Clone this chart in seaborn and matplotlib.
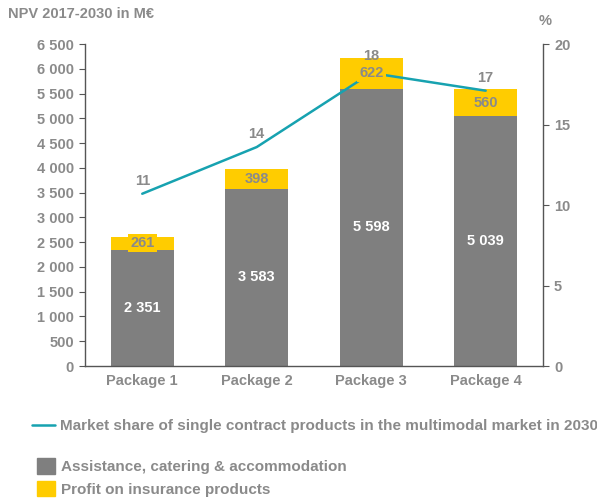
import pandas as pd
import seaborn as sns
import matplotlib.pyplot as plt
from matplotlib.patches import Patch
from matplotlib.lines import Line2D

# data
packages = ['Package 1', 'Package 2', 'Package 3', 'Package 4']
assistance = [2351, 3583, 5598, 5039]
insurance = [261, 398, 622, 560]
market_share = [10.7, 13.6, 18.2, 17.1]
share_labels = ['11', '14', '18', '17']

GRAY = '#7f7f7f'
YELLOW = '#ffcc00'
TEAL = '#17a2b0'
TXT = '#8a8a8a'
AX = '#555555'

sns.set_style('white')
plt.rcParams['font.family'] = ['Liberation Sans', 'DejaVu Sans']
plt.rcParams['font.weight'] = 'bold'

df = pd.DataFrame({'package': packages, 'assistance': assistance,
                   'insurance': insurance})
df['total'] = df['assistance'] + df['insurance']

fig = plt.figure(figsize=(5.97, 4.99), dpi=100)
ax = fig.add_axes([0.1424, 0.2665, 0.767, 0.6453])

# stacked bars: total in yellow, then gray on top of it
sns.barplot(data=df, x='package', y='total', color=YELLOW, saturation=1,
            width=0.55, ax=ax)
sns.barplot(data=df, x='package', y='assistance', color=GRAY, saturation=1,
            width=0.55, ax=ax)
for p in ax.patches:
    p.set_edgecolor('none')

ax.set_ylim(0, 6500)
ax.set_xlim(-0.5, 3.5)
ax.set_yticks(range(0, 6501, 500))
ax.set_yticklabels([f'{v:,}'.replace(',', ' ') for v in range(0, 6501, 500)])
ax.set_xlabel('')
ax.set_ylabel('')
ax.tick_params(axis='y', length=4, color=AX, labelcolor=TXT, labelsize=10.5, pad=4)
ax.tick_params(axis='x', length=0, labelcolor=TXT, labelsize=10.5, pad=6)
for s in ['top', 'right']:
    ax.spines[s].set_visible(False)
for s in ['left', 'bottom']:
    ax.spines[s].set_color(AX)
    ax.spines[s].set_linewidth(1)

# line on secondary axis
ax2 = ax.twinx()
sns.lineplot(x=list(range(len(packages))), y=market_share, color=TEAL,
             linewidth=1.8, ax=ax2)
ax2.set_ylim(0, 20)
ax2.set_yticks([0, 5, 10, 15, 20])
ax2.tick_params(axis='y', length=4, color=AX, labelcolor=TXT, labelsize=10.5, pad=4)
for s in ['top', 'left', 'bottom']:
    ax2.spines[s].set_visible(False)
ax2.spines['right'].set_color(AX)
ax2.spines['right'].set_linewidth(1)

for i, (v, lab) in enumerate(zip(market_share, share_labels)):
    off = 9.5 if i != 2 else 12.5
    ax2.annotate(lab, (i, v), xytext=(0, off), textcoords='offset points',
                 ha='center', va='center', color=TXT, fontsize=10.5, fontweight='bold')

# bar value labels (drawn on ax2 so they sit above the line)
for i, row in df.iterrows():
    ax2.text(i, row['assistance'] / 2, f"{row['assistance']:,}".replace(',', ' '),
             transform=ax.transData, ha='center', va='center',
             color='white', fontsize=10.5, fontweight='bold')
    ax2.text(i, row['assistance'] + row['insurance'] / 2, str(row['insurance']),
             transform=ax.transData, ha='center', va='center',
             color=TXT, fontsize=10.5, fontweight='bold',
             bbox=dict(boxstyle='square,pad=0.15', fc=YELLOW, ec='none'))

fig.text(0.013, 0.972, 'NPV 2017-2030 in M€', color=TXT, fontsize=10.5,
         fontweight='bold', ha='left', va='center')
fig.text(0.913, 0.957, '%', color=TXT, fontsize=10.5, fontweight='bold',
         ha='center', va='center')

fig.legend(handles=[Line2D([0], [0], color=TEAL, linewidth=1.8)],
           labels=['Market share of single contract products in the multimodal market in 2030'],
           loc='center left', bbox_to_anchor=(0.054, 0.146), frameon=False,
           fontsize=11, handlelength=1.5, handletextpad=0.3,
           labelcolor=TXT, borderaxespad=0, borderpad=0)
fig.legend(handles=[Patch(color=GRAY), Patch(color=YELLOW)],
           labels=['Assistance, catering & accommodation', 'Profit on insurance products'],
           loc='center left', bbox_to_anchor=(0.062, 0.043), frameon=False,
           fontsize=11, handlelength=1.15, handleheight=1.15, handletextpad=0.4,
           labelspacing=0.45, labelcolor=TXT, borderaxespad=0, borderpad=0)

fig.savefig('out.png', dpi=100)
